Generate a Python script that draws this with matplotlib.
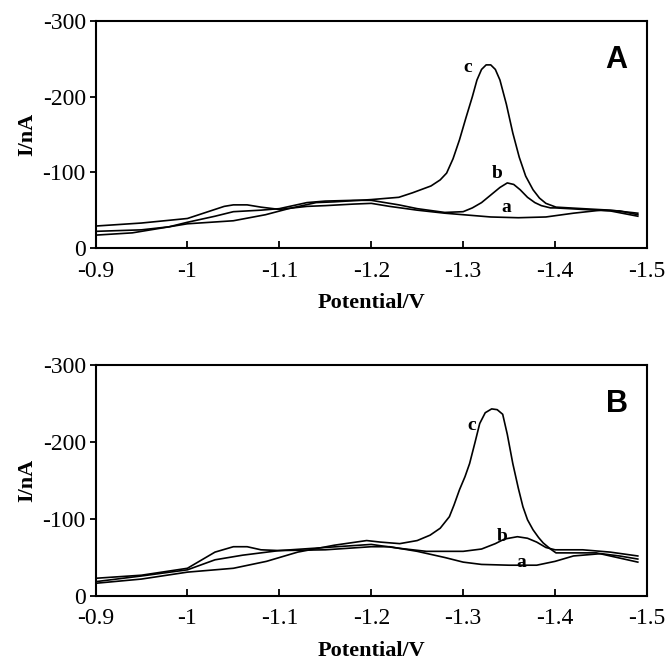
import matplotlib
matplotlib.use("Agg")
import matplotlib.pyplot as plt
import numpy as np

# ---------------- data (current magnitudes in nA, plotted as negative) ----------
# Panel A
xa_A = [-0.90, -0.95, -1.00, -1.02, -1.04, -1.05, -1.065, -1.08, -1.10, -1.13, -1.15, -1.18, -1.20,
        -1.22, -1.25, -1.28, -1.30, -1.33, -1.36, -1.39, -1.42, -1.45, -1.47, -1.49]
ya_A = [29, 33, 39, 47, 55, 57, 57, 54, 51, 55, 56, 58, 59,
        55, 50, 46, 44, 41, 40, 41, 46, 50, 49, 44]

xb_A = [-0.90, -0.95, -0.98, -1.00, -1.03, -1.05, -1.08, -1.10, -1.13, -1.15, -1.18, -1.20,
        -1.23, -1.25, -1.28, -1.30, -1.31, -1.32, -1.33, -1.34, -1.348, -1.355, -1.362,
        -1.37, -1.378, -1.385, -1.395, -1.40, -1.43, -1.46, -1.49]
yb_A = [22, 24, 28, 34, 42, 48, 50, 52, 60, 62, 63, 63,
        57, 52, 47, 48, 53, 60, 70, 80, 86, 84, 77,
        67, 60, 56, 53, 53, 51, 49, 42]

xc_A = [-0.90, -0.94, -1.00, -1.05, -1.085, -1.11, -1.14, -1.16, -1.20, -1.23, -1.245, -1.265,
        -1.275, -1.282, -1.289, -1.296, -1.303, -1.31, -1.315, -1.32, -1.325, -1.33, -1.335,
        -1.34, -1.347, -1.354, -1.361, -1.368, -1.376, -1.383, -1.39, -1.401,
        -1.43, -1.46, -1.49]
yc_A = [17, 20, 32, 36, 44, 52, 60, 61, 64, 67, 73, 82,
        90, 99, 118, 143, 172, 200, 222, 236, 242, 242, 236,
        222, 190, 152, 120, 95, 77, 66, 59, 54,
        52, 50, 46]

# Panel B
xa_B = [-0.90, -0.95, -1.00, -1.03, -1.05, -1.065, -1.08, -1.10, -1.15, -1.20, -1.22, -1.25,
        -1.28, -1.30, -1.32, -1.35, -1.38, -1.40, -1.42, -1.45, -1.47, -1.49]
ya_B = [23, 27, 36, 57, 64, 64, 60, 59, 60, 64, 64, 58,
        50, 44, 41, 40, 40, 45, 52, 55, 52, 48]

xb_B = [-0.90, -0.95, -1.00, -1.03, -1.06, -1.10, -1.15, -1.20, -1.23, -1.26, -1.30, -1.32,
        -1.335, -1.345, -1.359, -1.37, -1.38, -1.39, -1.40, -1.43, -1.46, -1.49]
yb_B = [18.6, 26, 34, 47, 53, 59, 63, 67, 62, 58, 58, 61,
        68, 74, 77, 75, 70, 63, 60, 60, 57, 52]

xc_B = [-0.90, -0.95, -1.00, -1.05, -1.086, -1.12, -1.16, -1.195, -1.21, -1.231, -1.25, -1.264,
        -1.275, -1.285, -1.29, -1.296, -1.302, -1.307, -1.313, -1.318, -1.324, -1.331,
        -1.337, -1.343, -1.348, -1.354, -1.36, -1.365, -1.37, -1.376, -1.382, -1.387,
        -1.395, -1.401, -1.445, -1.49]
yc_B = [16.5, 22, 31, 36, 45, 57, 66, 72, 70, 68, 72, 79,
        88, 103, 118, 138, 155, 172, 200, 224, 238, 243,
        242, 236, 210, 172, 140, 116, 99, 86, 76, 69,
        61, 56, 56, 44]

x_ticks = [-0.9, -1.0, -1.1, -1.2, -1.3, -1.4, -1.5]
x_tick_labels = ["-0.9", "-1", "-1.1", "-1.2", "-1.3", "-1.4", "-1.5"]
y_ticks = [0, -100, -200, -300]
y_tick_labels = ["0", "-100", "-200", "-300"]

panels = [
    ("A", [(xa_A, ya_A), (xb_A, yb_A), (xc_A, yc_A)],
     [("a", -1.347, -54), ("b", -1.3375, -99), ("c", -1.305, -238)]),
    ("B", [(xa_B, ya_B), (xb_B, yb_B), (xc_B, yc_B)],
     [("a", -1.363, -44), ("b", -1.342, -77), ("c", -1.309, -222)]),
]

# ---------------- figure ----------------
W, H = 668, 666
fig = plt.figure(figsize=(W / 100, H / 100), dpi=100)
serif = "Liberation Serif"
sans = "Liberation Sans"

axes_rects = [
    [95.5 / W, 1 - 248 / H, (647 - 95.5) / W, 227 / H],
    [95.5 / W, 1 - 596 / H, (647 - 95.5) / W, 231 / H],
]

for (name, curves, labels), rect in zip(panels, axes_rects):
    ax = fig.add_axes(rect)
    for xs, ys in curves:
        ax.plot(xs, -np.asarray(ys), color="black", lw=1.2)
    ax.set_xlim(-0.9, -1.5)
    ax.set_ylim(0, -300)
    for s in ax.spines.values():
        s.set_linewidth(1.5)
    ax.set_xticks(x_ticks)
    ax.set_xticklabels(x_tick_labels, fontfamily=serif, fontsize=17)
    ax.set_yticks(y_ticks)
    ax.set_yticklabels(y_tick_labels, fontfamily=serif, fontsize=17)
    ax.tick_params(axis="x", direction="in", length=5, width=1.3, pad=9)
    ax.tick_params(axis="y", direction="out", length=4, width=1.3, pad=3)
    ax.set_xlabel("Potential/V", fontfamily=serif, fontweight="bold", fontsize=16, labelpad=8)
    ax.set_ylabel("I/nA", fontfamily=serif, fontweight="bold", fontsize=16, labelpad=4)
    ax.text(0.945, 0.83, name, transform=ax.transAxes, fontfamily=sans,
            fontweight="bold", fontsize=22, ha="center", va="center")
    for t, x, y in labels:
        ax.text(x, y, t, fontfamily=serif, fontweight="bold", fontsize=14,
                ha="center", va="center")

fig.savefig("out.png", dpi=100)
